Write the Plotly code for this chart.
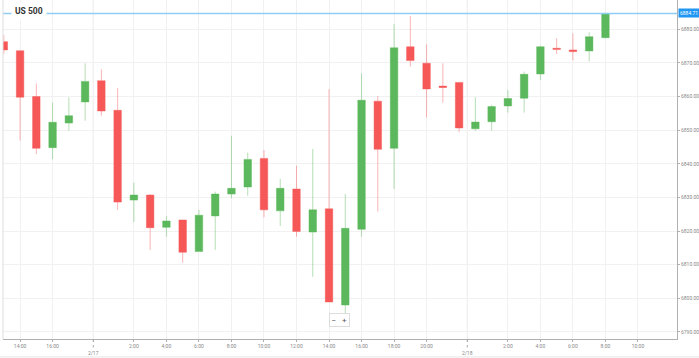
import plotly.graph_objects as go

# ---- data (hourly candles, market-closed hours omitted) ----
times = (["2/16 13:00", "2/16 14:00", "2/16 15:00", "2/16 16:00", "2/16 17:00", "2/16 18:00"]
         + ["2/17 %d:00" % h for h in range(0, 23)]
         + ["2/18 %d:00" % h for h in range(0, 9)])

opens = [6876.3, 6873.6, 6860.0, 6844.8, 6852.1, 6858.4, 6864.7, 6855.9, 6829.2, 6830.7,
         6821.1, 6823.3, 6813.9, 6824.5, 6831.0, 6833.1, 6841.6, 6826.0, 6832.5, 6819.7,
         6826.6, 6798.0, 6820.5, 6858.6, 6844.6, 6874.8, 6869.9, 6863.1, 6864.2, 6850.4,
         6852.5, 6857.2, 6859.5, 6866.7, 6874.35, 6873.85, 6873.55, 6877.5]
highs = [6878.3, 6873.8, 6863.9, 6858.2, 6859.8, 6869.9, 6868.1, 6862.5, 6834.4, 6831.0,
         6824.5, 6823.3, 6826.3, 6831.7, 6848.3, 6843.3, 6844.1, 6835.5, 6839.4, 6844.4,
         6862.2, 6831.0, 6866.9, 6860.2, 6881.6, 6883.95, 6875.5, 6869.9, 6864.2, 6859.8,
         6857.5, 6861.95, 6867.4, 6875.1, 6877.3, 6878.8, 6879.1, 6884.9]
lows = [6872.65, 6846.9, 6842.9, 6841.4, 6849.85, 6852.8, 6854.3, 6826.3, 6822.7, 6814.4,
        6818.3, 6810.6, 6813.9, 6814.4, 6829.75, 6830.5, 6824.1, 6821.5, 6818.3, 6806.4,
        6798.9, 6791.8, 6818.3, 6825.8, 6832.5, 6868.9, 6853.8, 6858.2, 6849.4, 6849.85,
        6849.85, 6855.2, 6855.2, 6864.9, 6872.65, 6870.7, 6870.4, 6877.3]
closes = [6873.85, 6859.8, 6844.6, 6852.35, 6854.3, 6864.5, 6855.7, 6828.6, 6830.7, 6821.0,
          6823.0, 6813.7, 6824.7, 6831.0, 6832.7, 6841.3, 6826.3, 6832.7, 6819.9, 6826.3,
          6798.9, 6820.8, 6858.9, 6844.3, 6874.5, 6870.7, 6862.25, 6862.7, 6850.65, 6852.4,
          6857.0, 6859.4, 6866.6, 6874.8, 6874.05, 6873.35, 6877.8, 6884.71]

x_tick_pos = [1, 3, 5.5, 8, 10, 12, 14, 16, 18, 20, 22, 24, 26, 28.5, 31, 33, 35, 37, 39]
x_tick_text = ["14:00", "16:00", "<br>2/17", "2:00", "4:00", "6:00", "8:00", "10:00", "12:00",
               "14:00", "16:00", "18:00", "20:00", "<br>2/18", "2:00", "4:00", "6:00", "8:00", "10:00"]
day_break_pos = [5.5, 28.5]
y_ticks = [6790, 6800, 6810, 6820, 6830, 6840, 6850, 6860, 6870, 6880]
last_price = 6884.71
title_text = "US 500"

x_idx = list(range(len(times)))

RED = "#f65858"
GREEN = "#5cb85c"

fig = go.Figure()
fig.add_trace(go.Candlestick(
    x=x_idx, open=opens, high=highs, low=lows, close=closes,
    text=times, hoverinfo="text+y",
    increasing=dict(fillcolor=GREEN, line=dict(color="rgba(92,184,92,0.45)", width=1)),
    decreasing=dict(fillcolor=RED, line=dict(color="rgba(246,88,88,0.45)", width=1)),
    whiskerwidth=0, showlegend=False,
))

shapes = []
# day separator emphasis + dotted tick
for p in day_break_pos:
    shapes.append(dict(type="line", xref="x", yref="paper", x0=p, x1=p, y0=0, y1=1,
                       line=dict(color="#e6e6e6", width=1), layer="below"))
    shapes.append(dict(type="line", xref="x", yref="paper", x0=p, x1=p, y0=0, y1=-0.025,
                       line=dict(color="#aaaaaa", width=1, dash="dot")))
# current price line
shapes.append(dict(type="line", xref="paper", yref="y", x0=0, x1=1, y0=last_price, y1=last_price,
                   line=dict(color="#8fcdf5", width=1.5)))
# left frame line
shapes.append(dict(type="line", xref="paper", yref="paper", x0=0, x1=0, y0=0, y1=1,
                   line=dict(color="#dddddd", width=1)))
# bottom container line
shapes.append(dict(type="line", xref="paper", yref="paper", x0=-0.01, x1=1.04, y0=-0.053, y1=-0.053,
                   line=dict(color="#e4e4e4", width=1)))

annotations = [
    dict(text="<b>%s</b>" % title_text, xref="paper", yref="paper", x=0.012, y=0.968,
         xanchor="left", yanchor="middle", showarrow=False,
         font=dict(family="Roboto", size=8.5, color="#333333"),
         bgcolor="white", borderpad=3),
    dict(text="%.2f" % last_price, xref="paper", yref="y", x=1.001, y=last_price,
         xanchor="left", yanchor="middle", showarrow=False,
         font=dict(family="Roboto", size=5, color="white"),
         bgcolor="#2196f3", borderpad=1),
    dict(text="−   +", xref="paper", yref="paper", x=0.4987, y=0.0575,
         xanchor="center", yanchor="middle", showarrow=False,
         font=dict(family="Roboto", size=8, color="#555555"),
         bgcolor="white", bordercolor="#dddddd", borderwidth=1, borderpad=1.5),
]

fig.update_layout(
    width=699, height=358,
    margin=dict(l=3, r=22, t=0, b=19, autoexpand=False),
    paper_bgcolor="white", plot_bgcolor="white",
    boxgap=0.34,
    shapes=shapes, annotations=annotations,
    font=dict(family="Roboto", size=5, color="#888888"),
    xaxis=dict(
        range=[-0.05, 41.4], rangeslider=dict(visible=False), automargin=False,
        tickmode="array", tickvals=x_tick_pos, ticktext=x_tick_text,
        showgrid=True, gridcolor="#f1f1f1", gridwidth=1,
        showline=True, linecolor="#b0b0b0", linewidth=1,
        ticks="outside", ticklen=2, tickcolor="#b0b0b0",
        tickfont=dict(family="Roboto", size=5, color="#888888"),
        zeroline=False, fixedrange=True,
    ),
    yaxis=dict(
        range=[6787.9, 6888.7], side="right", automargin=False,
        tickmode="array", tickvals=y_ticks, tickformat=".2f",
        showgrid=True, gridcolor="#f1f1f1", gridwidth=1,
        showline=True, linecolor="#b0b0b0", linewidth=1,
        ticks="outside", ticklen=2, tickcolor="#b0b0b0",
        tickfont=dict(family="Roboto", size=5, color="#888888"),
        zeroline=False, fixedrange=True,
    ),
)

fig.write_html(
    "out.html",
    config={"displayModeBar": False},
    post_script=("document.documentElement.style.margin='0';"
                 "document.body.style.margin='0';"
                 "document.body.style.overflow='hidden';"
                 "document.documentElement.style.overflow='hidden';"),
)
